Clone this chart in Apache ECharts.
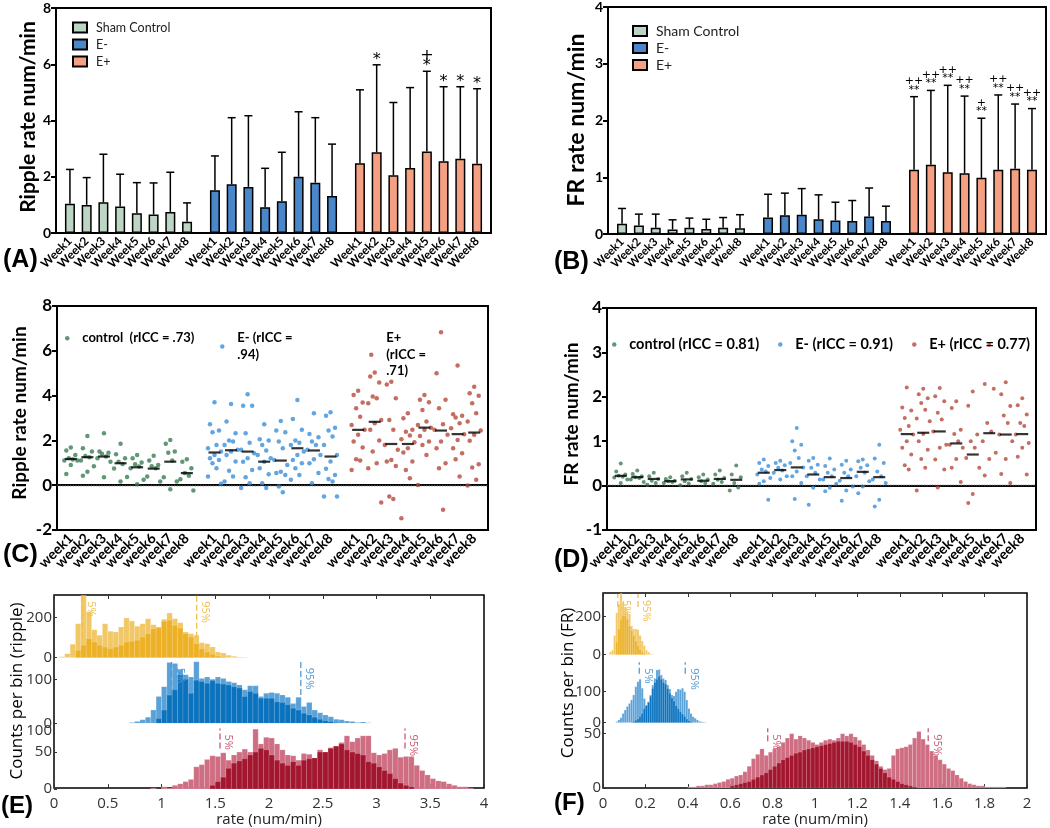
<!DOCTYPE html>
<html><head><meta charset="utf-8">
<script src="https://cdn.jsdelivr.net/npm/echarts@6/dist/echarts.min.js"></script>
<style>html,body{margin:0;padding:0;background:#fff}#c{width:1050px;height:828px}</style>
</head><body><div id="c"></div>
<script>
// ================= DATA =================
const weekLabels = ['Week1','Week2','Week3','Week4','Week5','Week6','Week7','Week8'];
const weekLabelsLower = ['week1','week2','week3','week4','week5','week6','week7','week8'];
const groupNamesAB = ['Sham Control','E-','E+'];

// Panel A – ripple rate, mean and upper SD
const aCtrlMean = [1.04,1.0,1.09,0.94,0.7,0.66,0.75,0.4];
const aCtrlUpper = [2.26,1.97,2.8,2.09,1.79,1.78,2.16,1.07];
const aEmMean = [1.52,1.73,1.64,0.92,1.13,2.0,1.79,1.32];
const aEmUpper = [2.74,4.1,4.17,2.3,2.87,4.31,4.1,3.16];
const aEpMean = [2.48,2.87,2.05,2.31,2.9,2.55,2.64,2.46];
const aEpUpper = [5.09,5.98,4.64,5.17,5.75,5.2,5.2,5.13];
const aEpSig = ['', '*', '', '', '+\n*', '*', '*', '*'];

// Panel B – FR rate
const bCtrlMean = [0.18,0.15,0.11,0.08,0.11,0.09,0.11,0.1];
const bCtrlUpper = [0.45,0.35,0.35,0.25,0.28,0.26,0.29,0.34];
const bEmMean = [0.29,0.33,0.34,0.26,0.24,0.23,0.31,0.23];
const bEmUpper = [0.7,0.72,0.8,0.69,0.56,0.59,0.81,0.49];
const bEpMean = [1.13,1.22,1.09,1.07,0.99,1.13,1.15,1.13];
const bEpUpper = [2.42,2.53,2.62,2.43,2.04,2.45,2.29,2.21];
const bEpSig = ['++\n**','++\n**','++\n**','++\n**','+\n**','++\n**','++\n**','++\n**'];

// Panel C – ripple rate per animal
const cNames = ['control  (rICC = .73)', 'E- (rICC =\n.94)', 'E+\n(rICC =\n.71)'];
const cCtrl = [
  [1.68,1.55,1.35,1.2,1.15,1.1,1.1,0.9,0.5],
  [2.2,1.65,1.5,1.3,1.25,1.1,0.85,0.6,0.42],
  [2.32,1.5,1.45,1.4,1.28,1.2,1.05,0.35],
  [1.85,1.38,1.2,1.05,0.95,0.75,0.37,0.16],
  [1.35,1.2,1.01,0.94,0.83,0.76,0.24,0.04],
  [1.32,1.1,0.9,0.85,0.76,0.39,0.16],
  [2.02,1.85,1.5,1.45,1.1,0.36,0.16,-0.18],
  [1.16,1.05,0.76,0.54,0.42,0.27,-0.24]];
const cCtrlMean = [1.17,1.25,1.28,0.98,0.8,0.74,1.05,0.54];
const cEm = [
  [3.7,2.72,2.44,2.36,1.8,1.65,1.5,1.35,1.2,1.12,0.98,0.76,0.39,0.07],
  [3.63,2.84,2.32,2.0,1.95,1.8,1.58,1.5,1.35,1.06,0.65,0.39,0.16],
  [4.06,3.55,3.55,2.32,1.9,1.58,1.43,1.2,1.05,0.68,0.36,0.09,-0.13],
  [2.72,2.05,2.0,1.8,1.55,1.35,1.2,1.05,0.76,0.49,0.09,-0.13],
  [2.87,2.44,2.36,1.95,1.65,1.13,0.9,0.6,0.54,0.46,-0.06,-0.31],
  [3.8,2.96,2.47,2.0,1.9,1.8,1.5,1.35,1.13,0.98,0.76,0.46,0.24],
  [3.21,2.29,2.14,1.95,1.8,1.58,1.35,1.16,0.98,0.54,0.09],
  [3.26,3.1,2.57,2.44,2.17,1.8,1.35,1.06,0.73,0.46,0.28,0.16,-0.5,-0.5]];
const cEmMean = [1.46,1.56,1.5,1.05,1.1,1.65,1.55,1.28];
const cEp = [
  [4.22,4.03,3.69,3.43,3.06,2.69,2.47,2.25,1.95,1.68,1.16,1.1,0.68],
  [5.03,4.85,4.58,3.96,3.88,3.66,2.91,2.77,2.47,2.0,1.5,0.98,0.76,-0.77],
  [4.62,4.5,3.88,2.91,2.47,1.8,1.58,1.13,1.06,0.86,-0.5,-0.62],
  [3.21,2.99,2.47,2.39,2.22,2.05,1.92,1.65,1.46,1.06,0.68,0.31,-1.47],
  [4.03,3.81,3.7,3.36,2.84,2.69,2.57,2.47,2.2,1.95,1.8,1.35,0.01],
  [6.83,5.0,3.81,3.43,2.72,2.47,2.25,1.95,1.65,0.98,0.76,-1.1],
  [5.34,3.17,3.1,3.02,2.77,2.54,2.28,2.02,1.65,1.43,1.16,0.39],
  [4.4,4.1,3.99,3.66,3.21,2.84,2.44,2.25,1.98,0.94,0.79,0.24,-0.01]];
const cEpMean = [2.47,2.83,1.84,1.84,2.57,2.44,2.28,2.35];

// Panel D – FR rate per animal
const dNames = ['control (rICC = 0.81)', 'E- (rICC = 0.91)', 'E+ (rICC = 0.77)'];
const dCtrl = [
  [0.5,0.32,0.25,0.22,0.2,0.18,0.14,0.06],
  [0.34,0.26,0.21,0.19,0.17,0.14,0.08],
  [0.29,0.21,0.15,0.11,0.06,0.02],
  [0.19,0.15,0.11,0.1,0.08,0.06],
  [0.29,0.21,0.15,0.1,0.05,0.01],
  [0.25,0.19,0.14,0.1,0.06],
  [0.34,0.25,0.17,0.13,0.08,0.04],
  [0.45,0.25,0.19,0.06,-0.04,-0.11]];
const dCtrlMean = [0.22,0.19,0.15,0.1,0.14,0.11,0.15,0.13];
const dEm = [
  [0.59,0.51,0.44,0.36,0.32,0.25,0.17,0.1,0.04,-0.32],
  [0.56,0.51,0.46,0.4,0.34,0.29,0.21,0.14],
  [1.3,1.0,0.92,0.79,0.62,0.51,0.41,0.32,0.21,0.06,-0.3],
  [0.62,0.56,0.47,0.4,0.29,0.21,0.14,-0.05,-0.43],
  [0.61,0.44,0.36,0.29,0.21,0.14,0.04,-0.05,-0.13],
  [0.56,0.47,0.36,0.29,0.21,0.11,-0.02,-0.11,-0.34],
  [0.59,0.55,0.46,0.4,0.29,0.21,0.1,-0.02,-0.17],
  [0.92,0.61,0.51,0.32,0.21,0.14,0.06,-0.32,-0.47]];
const dEmMean = [0.29,0.35,0.41,0.25,0.19,0.17,0.31,0.19];
const dEp = [
  [2.21,1.76,1.69,1.52,1.34,1.26,1.15,1.0,0.85,0.7,0.46,0.36],
  [2.18,2.06,1.97,1.86,1.71,1.51,1.45,1.16,1.0,0.81,0.6,0.4,-0.11],
  [2.2,2.01,1.9,1.64,1.49,1.22,0.92,0.85,0.59,0.36,-0.04],
  [1.9,1.75,1.26,1.16,1.0,0.92,0.85,0.6,0.4,0.08],
  [2.12,1.8,1.15,1.0,0.85,0.62,0.4,-0.19,-0.39],
  [3.17,2.29,2.18,1.41,1.22,1.0,0.74,0.6,0.23],
  [2.33,2.06,1.79,1.58,1.41,1.15,1.0,0.6,0.26,0.06],
  [1.97,1.81,1.6,1.41,1.34,1.15,0.96,0.85,0.65,0.25]];
const dEpMean = [1.16,1.19,1.22,0.95,0.7,1.18,1.15,1.16];

// Panel E – ripple bootstrap histograms (bin width 0.05)
const eBin = 0.05;
const eYelStart = 0.05;
const eYelLight = [5,20,67,170,310,230,140,112,170,132,128,153,198,183,157,170,195,165,153,192,223,195,175,128,120,112,75,70,53,28,23,12,7,3,2];
const eYelDark  = [0,0,0,37,62,95,78,62,53,45,53,62,78,82,87,103,120,145,150,182,187,162,148,120,103,70,45,28,17,8,3,0,0,0,0];
const eBlueStart = 0.70;
const eBlueLight = [2,4,8,14,30,61,83,138,136,123,110,105,140,102,105,100,105,102,95,92,87,76,85,85,61,68,70,68,64,59,45,59,38,47,30,24,19,15,9,8,5,4,2,3,1];
const eBlueDark  = [0,0,0,0,0,11,30,64,76,110,100,68,98,95,91,97,91,89,87,83,80,61,72,68,57,57,57,49,47,42,34,30,23,19,14,9,6,4,2,0,0,0,0,0,0];
const eRedStart = 0.90;
const eRedLight = [1,0,3,1,5,7,10,13,30,33,40,45,44,49,39,46,50,54,50,81,61,70,69,61,53,46,45,39,48,47,42,53,50,56,58,63,72,64,69,72,72,49,46,48,53,55,43,44,44,32,25,19,14,11,10,7,5,3,3,1];
const eRedDark  = [0,0,0,0,0,0,0,0,0,0,0,5,10,16,28,35,38,41,46,50,55,53,46,39,35,32,37,32,39,41,42,50,50,55,58,61,53,50,48,46,37,35,30,25,21,14,8,5,3,0,0,0,0,0,0,0];
const eYelTicks = [0, 200];
const eBlueTicks = [0, 100];
const eRedTicks = [0, 50];
const ePctYel = [0.264, 1.327];
const ePctBlue = [1.093, 2.296];
const ePctRed = [1.544, 3.265];
const pctLabels = ['5%', '95%'];

// Panel F – FR bootstrap histograms
const fBinSmall = 0.01;
const fYelStart = 0.03;
const fYelLight = [14,23,100,220,265,320,275,250,222,213,150,135,135,130,100,72,47,23,14,5,2];
const fYelDark  = [0,0,0,65,135,185,205,205,185,150,125,100,72,47,28,14,5,0,0,0,0];
const fBlueStart = 0.06;
const fBlueLight = [3,9,16,30,41,52,62,73,89,116,132,140,111,78,57,68,89,121,143,170,172,154,143,138,122,109,89,86,100,109,106,111,100,73,46,30,19,14,9,5,3,2,1];
const fBlueDark  = [0,0,0,0,0,0,0,0,3,8,12,20,30,45,55,65,85,110,130,140,150,140,130,125,110,95,80,70,55,45,35,28,20,12,6,3,0,0,0,0,0,0,0];
const fBinRed = 0.02;
const fRedStart = 0.40;
const fRedLight = [1,1,2,2,3,3,4,5,6,8,9,11,12,15,20,27,31,36,30,33,36,38,42,46,50,45,48,46,44,42,40,42,44,45,44,46,50,48,50,47,44,40,35,30,25,20,17,18,30,36,37,38,40,46,52,45,40,34,30,26,22,18,16,12,9,6,4,3,2,2,1,1,1,1,1];
const fRedDark  = [0,0,0,0,0,0,0,0,0,0,2,3,4,5,6,8,10,12,14,17,20,23,26,28,30,32,33,35,36,37,38,39,40,41,42,43,43,43,42,40,38,34,30,26,22,18,14,10,8,6,4,3,2,1,0,0,0,0,0,0,0,0,0,0,0,0,0,0,0,0,0,0,0,0,0];
const fYelTicks = [0, 200];
const fBlueTicks = [0, 100];
const fRedTicks = [0, 50];
const fPctYel = [0.07, 0.165];
const fPctBlue = [0.171, 0.388];
const fPctRed = [0.777, 1.534];

// ================= HELPERS =================
const FONT = 'Lato';
const SANS = '"Open Sans"';
const NSLOT = 78;
const slotOf = (g, w) => 2 + g * 26 + w * 3;
const slotCats = Array.from({length: NSLOT}, (_, i) => 's' + i);
function slotLabels(labels) {
  const arr = new Array(NSLOT).fill('');
  for (let g = 0; g < 3; g++) labels.forEach((l, w) => { arr[slotOf(g, w)] = l; });
  return arr;
}
function slotSeries(g, vals) {
  const arr = new Array(NSLOT).fill('-');
  vals.forEach((v, w) => { arr[slotOf(g, w)] = v; });
  return arr;
}
function catXAxis(gridIndex, labels, fontSize) {
  const lab = slotLabels(labels);
  const showTick = (i) => lab[i] !== '';
  const showLabel = (i) => i === 0 || i === NSLOT - 1 || lab[i] !== '';
  return {
    type: 'category', gridIndex, data: slotCats, boundaryGap: true,
    axisLine: {lineStyle: {color: '#000', width: 2}},
    axisTick: {alignWithLabel: true, interval: showTick, length: 5, lineStyle: {color: '#000', width: 2}},
    axisLabel: {interval: showLabel, formatter: (v, i) => lab[i], rotate: 45, fontWeight: 'bold',
      showMinLabel: false, showMaxLabel: false, hideOverlap: false,
      fontSize, color: '#000', fontFamily: FONT, margin: 6},
    splitLine: {show: false}
  };
}
function valYAxis(gridIndex, min, max, interval, fontSize) {
  return {
    type: 'value', gridIndex, min, max, interval,
    axisLine: {show: true, lineStyle: {color: '#000', width: 2}},
    axisTick: {show: true, length: 5, lineStyle: {color: '#000', width: 2}},
    axisLabel: {fontSize, fontWeight: 'bold', color: '#000', fontFamily: FONT, margin: 5},
    splitLine: {show: false}
  };
}
function barSeries(name, g, vals, color, idx) {
  return {type: 'bar', name, xAxisIndex: idx, yAxisIndex: idx, data: slotSeries(g, vals),
    barWidth: 10, barGap: '-100%', z: 3,
    itemStyle: {color, borderColor: '#000', borderWidth: 1.5}};
}
function errSeries(idx, means, uppers) {
  const data = [];
  means.forEach((m, g) => m.forEach((v, w) => data.push([slotOf(g, w), v, uppers[g][w]])));
  return {type: 'custom', xAxisIndex: idx, yAxisIndex: idx, z: 2, silent: true, data,
    encode: {x: 0, y: [1, 2]},
    renderItem: (params, api) => {
      const p0 = api.coord([api.value(0), api.value(1)]);
      const p1 = api.coord([api.value(0), api.value(2)]);
      const st = {stroke: '#000', lineWidth: 1.5};
      return {type: 'group', children: [
        {type: 'line', shape: {x1: p0[0], y1: p0[1], x2: p1[0], y2: p1[1]}, style: st},
        {type: 'line', shape: {x1: p1[0] - 4, y1: p1[1], x2: p1[0] + 4, y2: p1[1]}, style: st}
      ]};
    }};
}
function sigSeries(idx, uppers, texts, fontSize, base, step) {
  return {type: 'custom', xAxisIndex: idx, yAxisIndex: idx, z: 4, silent: true,
    data: uppers.map((u, w) => [slotOf(2, w), u]),
    renderItem: (params, api) => {
      const t = texts[params.dataIndex];
      if (!t) return;
      const p = api.coord([api.value(0), api.value(1)]);
      const lines = t.split('\n').reverse();
      return {type: 'group', children: lines.map((s, k) => ({
        type: 'text', x: p[0], y: p[1] - base - k * step,
        style: {text: s, fill: '#000', font: fontSize + 'px "DejaVu Sans"', textAlign: 'center', textVerticalAlign: 'middle'}
      }))};
    }};
}
const JITTER = [0, -4.5, 4.5, -2, 2, -6.5, 6.5];
function scatterSeries(name, idx, g, weeksVals, color, size) {
  const data = [];
  weeksVals.forEach((vals, w) => vals.forEach((v, i) => data.push({
    value: [slotOf(g, w), v], symbolOffset: [JITTER[i % JITTER.length], 0]})));
  return {type: 'scatter', name, xAxisIndex: idx, yAxisIndex: idx, data, symbol: 'circle',
    symbolSize: size, itemStyle: {color}, z: 3};
}
function meanSeries(idx, means) {
  const data = [];
  means.forEach((m, g) => m.forEach((v, w) => data.push([slotOf(g, w), v])));
  return {type: 'scatter', xAxisIndex: idx, yAxisIndex: idx, data, symbol: 'rect',
    symbolSize: [12, 2.2], itemStyle: {color: '#000'}, z: 5, silent: true,
    markLine: {silent: true, symbol: 'none', label: {show: false},
      lineStyle: {type: 'dotted', color: '#444', width: 1.3}, data: [{yAxis: 0}]}};
}
function histData(start, bin, counts) {
  return counts.map((c, i) => [start + i * bin, c]);
}
function histSeries(xi, yi, start, bin, counts, color, z) {
  return {type: 'custom', coordinateSystem: 'cartesian2d', xAxisIndex: xi, yAxisIndex: yi, clip: true, z, silent: true,
    data: histData(start, bin, counts),
    renderItem: (params, api) => {
      const x0 = api.value(0), c = api.value(1);
      if (!c) return;
      const a = api.coord([x0, 0]), b = api.coord([x0 + bin, c]);
      return {type: 'rect', shape: {x: a[0], y: b[1], width: b[0] - a[0], height: a[1] - b[1]},
        style: {fill: color, stroke: 'rgba(255,255,255,0.3)', lineWidth: 0.5}};
    }};
}
function pctSeries(xi, yi, xs, lo, hi, color) {
  return {type: 'custom', coordinateSystem: 'cartesian2d', xAxisIndex: xi, yAxisIndex: yi, z: 6, silent: true,
    data: xs.map(x => [x, lo, hi]),
    renderItem: (params, api) => {
      const p0 = api.coord([api.value(0), api.value(1)]);
      const p1 = api.coord([api.value(0), api.value(2)]);
      return {type: 'group', children: [
        {type: 'line', shape: {x1: p0[0], y1: p0[1], x2: p1[0], y2: p1[1]},
          style: {stroke: color, lineWidth: 1.3, lineDash: [6, 3]}},
        {type: 'text', x: p1[0] + 3, y: p1[1] + 6, rotation: -Math.PI / 2,
          style: {text: pctLabels[params.dataIndex], fill: color, font: '11px ' + SANS,
            textAlign: 'left', textVerticalAlign: 'bottom'}}
      ]};
    }};
}
function histY(gridIndex, max, ticks) {
  return {type: 'value', gridIndex, min: 0, max,
    axisLine: {show: false},
    axisTick: {show: true, inside: true, length: 3, customValues: ticks, lineStyle: {color: '#333'}},
    axisLabel: {show: false},
    splitLine: {show: false}};
}
function hiddenX(gridIndex, max) {
  return {type: 'value', gridIndex, min: 0, max, show: false};
}
function outerX(gridIndex, max, interval, nameGap) {
  return {type: 'value', gridIndex, min: 0, max, interval,
    axisLine: {show: false},
    axisTick: {show: true, inside: true, length: 4, lineStyle: {color: '#333'}},
    axisLabel: {fontSize: 15, color: '#333', fontFamily: SANS, margin: 8},
    splitLine: {show: false},
    name: 'rate (num/min)', nameLocation: 'middle', nameGap,
    nameTextStyle: {fontSize: 15, color: '#222', fontFamily: SANS}};
}
function outerTopX(gridIndex, max, interval) {
  return {type: 'value', gridIndex, position: 'top', min: 0, max, interval,
    axisLine: {show: false}, axisLabel: {show: false}, splitLine: {show: false},
    axisTick: {show: true, inside: true, length: 4, lineStyle: {color: '#333'}}};
}
function hiddenY(gridIndex) {
  return {type: 'value', gridIndex, min: 0, max: 1, show: false};
}
function vTitle(text, x, y, font) {
  return {type: 'text', x, y, rotation: Math.PI / 2,
    style: {text, font, fill: '#000', textAlign: 'center', textVerticalAlign: 'middle'}};
}
function panelLabel(text, left, top, size) {
  return {type: 'text', left, top, style: {text, font: 'bold ' + size + 'px "Liberation Sans"', fill: '#000'}};
}

// ================= OPTION =================
const boxGrid = (left, top, width, height, bw) => ({left, top, width, height, show: true,
  borderColor: '#000', borderWidth: bw, backgroundColor: 'transparent'});
const plainGrid = (left, top, width, height) => ({left, top, width, height});

const colCtrl = '#bdd5c5', colEm = '#4a86ca', colEp = '#f5a083';
const dotCtrl = '#3b7d54', dotEm = '#3b8fd8', dotEp = '#b54a3a';
const yelL = '#f2c766', yelD = '#ecb127', bluL = '#5aa1d8', bluD = '#0b72bd', redL = '#cf6e83', redD = '#a3162f';

const staticGraphics = [
  panelLabel('(A)', 3, 248, 25), panelLabel('(B)', 554, 250, 25),
  panelLabel('(C)', 3, 543, 25), panelLabel('(D)', 554, 548, 25),
  panelLabel('(E)', 1, 794, 24), panelLabel('(F)', 554, 791, 24),
  vTitle('Ripple rate num/min', 28, 117, 'bold 21px Lato'),
  vTitle('FR rate num/min', 577, 120, 'bold 23px Lato'),
  vTitle('Ripple rate num/min', 20, 413, 'bold 19px Lato'),
  vTitle('FR rate num/min', 572, 414, 'bold 19px Lato'),
  vTitle('Counts per bin (ripple)', 17, 691, '17px "Open Sans"'),
  vTitle('Counts per bin (FR)', 568, 683, '17px "Open Sans"'),
  {type: 'text', x: 52, y: 731, style: {text: '100', font: '15px "Open Sans"', fill: '#333', textAlign: 'right', textVerticalAlign: 'middle'}}
];

const option = {
  animation: false,
  textStyle: {fontFamily: FONT},
  grid: [
    boxGrid(56, 8, 435, 225, 2),        // 0 A
    boxGrid(608, 7, 438, 227, 2),       // 1 B
    boxGrid(57, 306, 431, 224, 2),      // 2 C
    boxGrid(607, 308, 429, 222, 2),     // 3 D
    boxGrid(54, 595, 430, 195, 1.5),    // 4 E outer
    plainGrid(54, 595, 430, 62.7),      // 5 E yellow
    plainGrid(54, 659, 430, 64.3),      // 6 E blue
    plainGrid(54, 724, 430, 65),        // 7 E red
    boxGrid(603, 593, 424, 196, 1.5),   // 8 F outer
    plainGrid(603, 593, 424, 61.7),     // 9 F yellow
    plainGrid(603, 657, 424, 65.7),     // 10 F blue
    plainGrid(603, 725, 424, 63)        // 11 F red
  ],
  xAxis: [
    catXAxis(0, weekLabels, 12),        // 0
    catXAxis(1, weekLabels, 11.5),      // 1
    catXAxis(2, weekLabelsLower, 14),   // 2
    catXAxis(3, weekLabelsLower, 14),   // 3
    outerX(4, 4, 0.5, 22),              // 4
    outerTopX(4, 4, 0.5),               // 5
    hiddenX(5, 4), hiddenX(6, 4), hiddenX(7, 4),     // 6,7,8
    outerX(8, 2, 0.2, 21),              // 9
    outerTopX(8, 2, 0.2),               // 10
    hiddenX(9, 2), hiddenX(10, 2), hiddenX(11, 2)    // 11,12,13
  ],
  yAxis: [
    valYAxis(0, 0, 8, 2, 14),
    valYAxis(1, 0, 4, 1, 14),
    valYAxis(2, -2, 8, 2, 17),
    valYAxis(3, -1, 4, 1, 17),
    hiddenY(4),                                                                   // 4
    histY(5, 313, eYelTicks), histY(6, 146, eBlueTicks), histY(7, 88, eRedTicks),   // 5,6,7
    hiddenY(8),                                                                   // 8
    histY(9, 323, fYelTicks), histY(10, 212, fBlueTicks), histY(11, 58, fRedTicks)  // 9,10,11
  ],
  legend: [
    {orient: 'vertical', left: 67, top: 16, itemWidth: 14, itemHeight: 10, itemGap: 4, icon: 'rect',
      data: groupNamesAB, textStyle: {fontSize: 12.5, color: '#222', fontFamily: FONT, padding: [0, 0, 0, 4]}},
    {orient: 'vertical', left: 627, top: 19, itemWidth: 14, itemHeight: 10, itemGap: 3, icon: 'rect',
      data: groupNamesAB, textStyle: {fontSize: 14, color: '#222', fontFamily: FONT, padding: [0, 0, 0, 4]}},
    {left: 60, top: 325, itemWidth: 20, itemHeight: 4.5, icon: 'circle', data: [cNames[0]],
      textStyle: {fontSize: 13, fontWeight: 'bold', color: '#000', lineHeight: 16.5}},
    {left: 215, top: 325, itemWidth: 20, itemHeight: 4.5, icon: 'circle', data: [cNames[1]],
      textStyle: {fontSize: 13, fontWeight: 'bold', color: '#000', lineHeight: 16.5}},
    {left: 364, top: 325, itemWidth: 20, itemHeight: 4.5, icon: 'circle', data: [cNames[2]],
      textStyle: {fontSize: 13, fontWeight: 'bold', color: '#000', lineHeight: 16.5}},
    {left: 607, top: 332, itemWidth: 20, itemHeight: 4.5, icon: 'circle', data: [dNames[0]],
      textStyle: {fontSize: 14.5, fontWeight: 'bold', color: '#000'}},
    {left: 773, top: 332, itemWidth: 20, itemHeight: 4.5, icon: 'circle', data: [dNames[1]],
      textStyle: {fontSize: 14.5, fontWeight: 'bold', color: '#000'}},
    {left: 907, top: 332, itemWidth: 20, itemHeight: 4.5, icon: 'circle', data: [dNames[2]],
      textStyle: {fontSize: 14.5, fontWeight: 'bold', color: '#000'}}
  ],
  series: [
    // A
    barSeries(groupNamesAB[0], 0, aCtrlMean, colCtrl, 0),
    barSeries(groupNamesAB[1], 1, aEmMean, colEm, 0),
    barSeries(groupNamesAB[2], 2, aEpMean, colEp, 0),
    errSeries(0, [aCtrlMean, aEmMean, aEpMean], [aCtrlUpper, aEmUpper, aEpUpper]),
    sigSeries(0, aEpUpper, aEpSig, 16, 5, 10),
    // B
    barSeries(groupNamesAB[0], 0, bCtrlMean, colCtrl, 1),
    barSeries(groupNamesAB[1], 1, bEmMean, colEm, 1),
    barSeries(groupNamesAB[2], 2, bEpMean, colEp, 1),
    errSeries(1, [bCtrlMean, bEmMean, bEpMean], [bCtrlUpper, bEmUpper, bEpUpper]),
    sigSeries(1, bEpUpper, bEpSig, 11, 7, 8.5),
    // C
    scatterSeries(cNames[0], 2, 0, cCtrl, dotCtrl, 4.5),
    scatterSeries(cNames[1], 2, 1, cEm, dotEm, 4.5),
    scatterSeries(cNames[2], 2, 2, cEp, dotEp, 4.5),
    meanSeries(2, [cCtrlMean, cEmMean, cEpMean]),
    // D
    scatterSeries(dNames[0], 3, 0, dCtrl, dotCtrl, 4),
    scatterSeries(dNames[1], 3, 1, dEm, dotEm, 4),
    scatterSeries(dNames[2], 3, 2, dEp, dotEp, 4),
    meanSeries(3, [dCtrlMean, dEmMean, dEpMean]),
    // E
    histSeries(6, 5, eYelStart, eBin, eYelLight, yelL, 2),
    histSeries(6, 5, eYelStart, eBin, eYelDark, yelD, 3),
    pctSeries(6, 5, ePctYel, 100, 312, '#efc050'),
    histSeries(7, 6, eBlueStart, eBin, eBlueLight, bluL, 2),
    histSeries(7, 6, eBlueStart, eBin, eBlueDark, bluD, 3),
    pctSeries(7, 6, ePctBlue, 64, 140, '#4f9ad6'),
    histSeries(8, 7, eRedStart, eBin, eRedLight, redL, 2),
    histSeries(8, 7, eRedStart, eBin, eRedDark, redD, 3),
    pctSeries(8, 7, ePctRed, 55, 82, '#c95a72'),
    // F
    histSeries(11, 9, fYelStart, fBinSmall, fYelLight, yelL, 2),
    histSeries(11, 9, fYelStart, fBinSmall, fYelDark, yelD, 3),
    pctSeries(11, 9, fPctYel, 250, 318, '#efc050'),
    histSeries(12, 10, fBlueStart, fBinSmall, fBlueLight, bluL, 2),
    histSeries(12, 10, fBlueStart, fBinSmall, fBlueDark, bluD, 3),
    pctSeries(12, 10, fPctBlue, 158, 195, '#4f9ad6'),
    histSeries(13, 11, fRedStart, fBinRed, fRedLight, redL, 2),
    histSeries(13, 11, fRedStart, fBinRed, fRedDark, redD, 3),
    pctSeries(13, 11, fPctRed, 43, 55, '#c95a72')
  ],
  graphic: staticGraphics
};

const chart = echarts.init(document.getElementById('c'), null, {renderer: 'canvas'});
chart.setOption(option);

// tick labels of the stacked histogram axes, placed through each axis' own scale
const histTickSpecs = [
  [5, eYelTicks, 52], [6, eBlueTicks, 52], [7, eRedTicks, 52],
  [9, fYelTicks, 601], [10, fBlueTicks, 601], [11, fRedTicks, 601]
];
const tickTexts = [];
histTickSpecs.forEach(([yi, ticks, xRight]) => {
  ticks.forEach(v => {
    const y = chart.convertToPixel({yAxisIndex: yi}, v);
    tickTexts.push({type: 'text', x: xRight, y,
      style: {text: String(v), font: '15px "Open Sans"', fill: '#333', textAlign: 'right', textVerticalAlign: 'middle'}});
  });
});
chart.setOption({graphic: staticGraphics.concat(tickTexts)});
</script>
</body></html>
